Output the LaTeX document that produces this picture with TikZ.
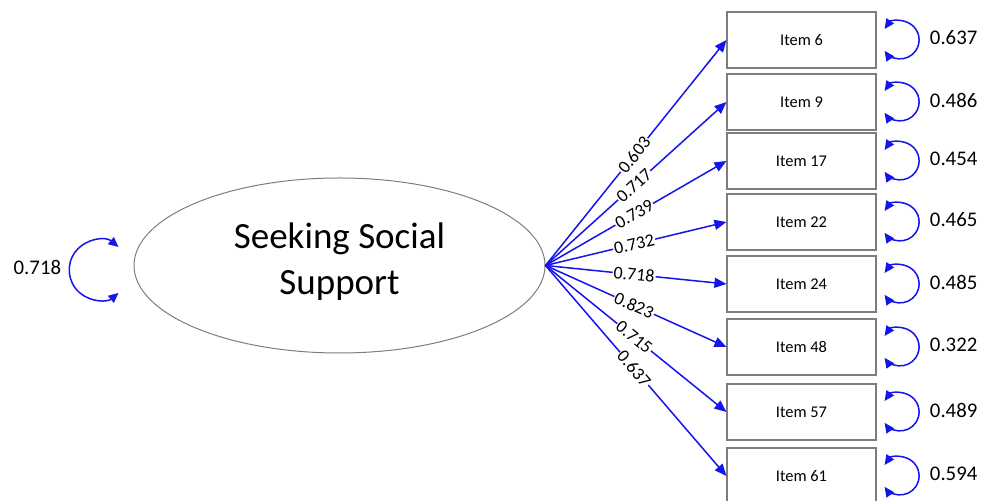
\documentclass[tikz,border=0pt]{standalone}
\usepackage{fontspec}
\setmainfont{Carlito}
\usetikzlibrary{arrows.meta,shapes.geometric}
\definecolor{pathblue}{RGB}{20,20,235}
\definecolor{framegray}{RGB}{125,125,125}

\begin{document}
\begin{tikzpicture}[x=0.5pt,y=-0.5pt,
  item/.style={draw=framegray, line width=0.55pt, minimum width=74.5pt, minimum height=28pt,
    inner sep=0pt, font=\fontsize{8.2}{9}\selectfont},
  latent/.style={ellipse, draw=framegray, line width=0.5pt, minimum width=205.5pt,
    minimum height=87.5pt, inner sep=0pt, align=center, font=\fontsize{18.5}{23}\selectfont},
  load/.style={draw=pathblue, line width=0.75pt, -{Triangle[length=6pt,width=5pt]}},
  coef/.style={sloped, pos=0.49, fill=white, inner sep=0.5pt, font=\fontsize{9}{10}\selectfont},
  resid/.style={draw=pathblue, line width=0.75pt,
    {Triangle[length=5pt,width=4.5pt]}-{Triangle[length=5pt,width=4.5pt]}},
  varlab/.style={font=\fontsize{10.4}{12}\selectfont, inner sep=0pt}
]
\useasboundingbox (0,0) rectangle (992,501);

% latent factor
\node[latent] (f) at (339.5,265.5) {};
\node[font=\fontsize{18.5}{23}\selectfont, align=center] (ftext) at (339.5,262) {Seeking Social\\Support};

% observed items
\foreach \name/\y in {6/40, 9/102, 17/161, 22/222, 24/284, 48/347, 57/412, 61/476}
  \node[item] (i\name) at (801.5,\y) {Item \name};

% factor loadings
\foreach \name/\val in {6/0.603, 9/0.717, 17/0.739, 22/0.732, 24/0.718, 48/0.823, 57/0.715, 61/0.637}
  \draw[load] (f.east) -- node[coef] {\val} (i\name.west);

% residual variances of the items
\foreach \name/\val in {6/0.637, 9/0.486, 17/0.454, 22/0.465, 24/0.485, 48/0.322, 57/0.489, 61/0.594} {
  \draw[resid] ([xshift=4pt,yshift=5.5pt]i\name.east) arc[start angle=145, end angle=-145, radius=9.5pt];
  \node[varlab, anchor=west] (v\name) at ([xshift=26.5pt,yshift=1pt]i\name.east) {\val};
}

% factor variance
\draw[resid] ([xshift=-7.5pt,yshift=9.25pt]f.west) arc[start angle=50, end angle=310, radius=15pt];
\node[varlab, anchor=east] (vf) at ([xshift=-36pt,yshift=-1pt]f.west) {0.718};
\end{tikzpicture}
\end{document}
